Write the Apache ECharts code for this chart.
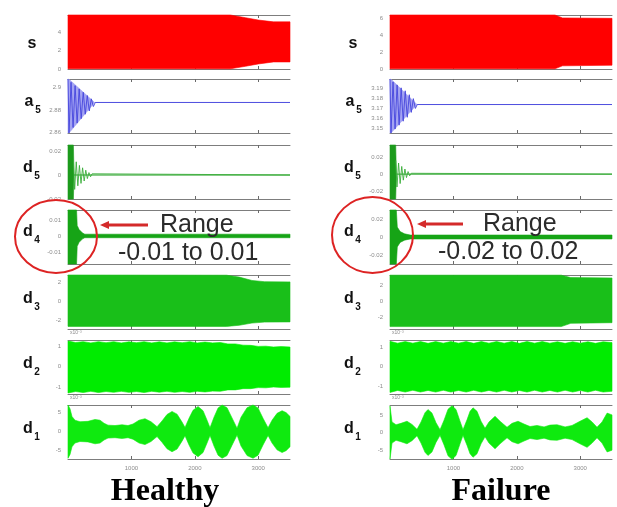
<!DOCTYPE html>
<html>
<head>
<meta charset="utf-8">
<script src="https://cdn.jsdelivr.net/npm/echarts@6/dist/echarts.min.js"></script>
<style>
html,body{margin:0;padding:0;background:#fff}
#chart{width:617px;height:507px}
</style>
</head>
<body>
<div id="chart"></div>
<script>
// ---- shared axis values (sample index) ----
const xMin = 0, xMax = 3500;
const xTickValues = [1000, 2000, 3000];
const levelNames = ['s', 'a', 'd', 'd', 'd', 'd', 'd'];
const levelSubs = ['', '5', '5', '4', '3', '2', '1'];

// ---- Healthy: envelopes (upper / lower) of each level ----
const hS_t = [0, 2560, 2800, 3000, 3240, 3500];
const hS_hi = [5.9, 5.9, 5.6, 5.35, 5.15, 5.15];
const hS_lo = [0.02, 0.02, 0.3, 0.55, 0.77, 0.77];

const hA5_t = [0, 30, 420, 3500];
const hA5_hi = [2.908, 2.907, 2.8867, 2.8867];
const hA5_lo = [2.859, 2.860, 2.8867, 2.8867];
const hA5Osc_t = [0, 16, 48, 80, 112, 144, 176, 208, 240, 272, 304, 336, 368, 400, 430, 3500];
const hA5Osc_v = [2.908, 2.859, 2.905, 2.864, 2.902, 2.868, 2.899, 2.872, 2.896, 2.876, 2.893, 2.879, 2.890, 2.883, 2.8867, 2.8867];

const hD5_t = [0, 85, 95, 3500];
const hD5_hi = [0.025, 0.025, 0, 0];
const hD5_lo = [-0.02, -0.02, 0, 0];
const hD5Osc_t = [85, 105, 130, 155, 180, 205, 230, 255, 280, 305, 330, 355, 380, 405, 3500];
const hD5Osc_v = [0.013, -0.012, 0.011, -0.009, 0.008, -0.007, 0.006, -0.005, 0.004, -0.003, 0.002, -0.0015, 0.001, 0, 0];

const hD4_t = [0, 135, 145, 175, 230, 265, 3500];
const hD4_hi = [0.0162, 0.0162, 0.0065, 0.004, 0.0018, 0.0011, 0.0011];
const hD4_lo = [-0.0175, -0.0175, -0.0065, -0.004, -0.0018, -0.0011, -0.0011];

const hD3_t = [0, 2500, 2700, 2900, 3100, 3500];
const hD3_hi = [2.77, 2.75, 2.55, 2.2, 2.07, 2.05];
const hD3_lo = [-2.6, -2.6, -2.48, -2.25, -2.15, -2.13];

const hD2_t = [0, 120, 240, 360, 480, 600, 720, 840, 960, 1080, 1200, 1320, 1440, 1560, 1680, 1800, 1920, 2040, 2160, 2280, 2400, 2520, 2640, 2760, 2880, 3000, 3120, 3240, 3360, 3500];
const hD2_hi = [1.24, 1.17, 1.21, 1.15, 1.21, 1.16, 1.21, 1.15, 1.2, 1.16, 1.21, 1.15, 1.2, 1.15, 1.2, 1.16, 1.21, 1.15, 1.19, 1.15, 1.17, 1.1, 1.1, 1.04, 1.03, 0.98, 0.99, 0.95, 0.97, 0.95];
const hD2_lo = [-1.28, -1.21, -1.26, -1.2, -1.26, -1.21, -1.25, -1.2, -1.25, -1.21, -1.26, -1.2, -1.24, -1.2, -1.25, -1.21, -1.25, -1.2, -1.23, -1.19, -1.2, -1.13, -1.13, -1.07, -1.07, -1.02, -1.03, -0.99, -1.01, -1.0];

const hD1_t = [0, 32, 63, 110, 189, 315, 426, 505, 568, 631, 741, 852, 946, 1025, 1120, 1214, 1309, 1404, 1482, 1561, 1640, 1719, 1798, 1845, 1908, 1971, 2050, 2129, 2192, 2239, 2302, 2366, 2429, 2507, 2586, 2665, 2728, 2823, 2917, 2996, 3075, 3154, 3217, 3296, 3375, 3438, 3500];
const hD1_amp = [7.0, 6.0, 4.0, 3.0, 2.6, 2.7, 3.2, 3.0, 2.2, 1.7, 1.6, 1.8, 1.6, 2.0, 3.0, 3.4, 2.6, 1.3, 2.8, 4.5, 5.3, 4.6, 2.5, 1.1, 3.5, 5.6, 6.6, 5.5, 3.0, 1.0, 3.8, 6.2, 7.0, 6.3, 3.6, 0.9, 3.8, 6.3, 7.0, 6.2, 3.5, 1.0, 3.0, 4.8, 5.5, 5.0, 4.0];

// ---- Failure: envelopes (upper / lower) of each level ----
const fS_t = [0, 2600, 2720, 3500];
const fS_hi = [6.45, 6.45, 6.1, 6.05];
const fS_lo = [0.02, 0.02, 0.38, 0.45];

const fA5_t = [0, 30, 425, 3500];
const fA5_hi = [3.2, 3.199, 3.174, 3.174];
const fA5_lo = [3.145, 3.146, 3.174, 3.174];
const fA5Osc_t = [0, 16, 48, 80, 112, 144, 176, 208, 240, 272, 304, 336, 368, 400, 430, 3500];
const fA5Osc_v = [3.2, 3.145, 3.197, 3.149, 3.194, 3.153, 3.191, 3.157, 3.188, 3.161, 3.184, 3.166, 3.18, 3.17, 3.174, 3.174];

const fD5_t = [0, 90, 100, 3500];
const fD5_hi = [0.034, 0.034, 0, 0];
const fD5_lo = [-0.029, -0.029, 0, 0];
const fD5Osc_t = [90, 110, 135, 160, 185, 210, 235, 260, 285, 310, 335, 360, 3500];
const fD5Osc_v = [0.016, -0.015, 0.013, -0.011, 0.009, -0.007, 0.006, -0.004, 0.003, -0.002, 0.001, 0, 0];

const fD4_t = [0, 100, 115, 160, 230, 320, 3500];
const fD4_hi = [0.03, 0.03, 0.011, 0.006, 0.0035, 0.0022, 0.0022];
const fD4_lo = [-0.03, -0.03, -0.011, -0.006, -0.0035, -0.0022, -0.0022];

const fD3_t = [0, 2700, 2850, 3500];
const fD3_hi = [3.25, 3.25, 2.95, 2.9];
const fD3_lo = [-3.1, -3.1, -2.7, -2.62];

const fD2_t = [0, 120, 240, 360, 480, 600, 720, 840, 960, 1080, 1200, 1320, 1440, 1560, 1680, 1800, 1920, 2040, 2160, 2280, 2400, 2520, 2640, 2760, 2880, 3000, 3120, 3240, 3360, 3500];
const fD2_hi = [1.28, 1.19, 1.27, 1.19, 1.27, 1.18, 1.27, 1.19, 1.27, 1.19, 1.27, 1.18, 1.27, 1.19, 1.27, 1.19, 1.27, 1.18, 1.27, 1.19, 1.27, 1.19, 1.26, 1.18, 1.26, 1.19, 1.26, 1.18, 1.26, 1.22];
const fD2_lo = [-1.32, -1.22, -1.3, -1.21, -1.3, -1.22, -1.3, -1.21, -1.3, -1.22, -1.3, -1.21, -1.3, -1.22, -1.3, -1.21, -1.3, -1.22, -1.3, -1.21, -1.3, -1.22, -1.3, -1.21, -1.3, -1.22, -1.3, -1.21, -1.3, -1.26];

const fD1_t = [0, 32, 95, 173, 268, 347, 426, 489, 552, 599, 662, 725, 789, 852, 915, 978, 1041, 1104, 1151, 1214, 1262, 1309, 1372, 1435, 1498, 1561, 1656, 1735, 1845, 1924, 2019, 2113, 2208, 2318, 2429, 2523, 2634, 2760, 2870, 2996, 3107, 3186, 3264, 3343, 3423, 3500];
const fD1_amp = [7.5, 3.0, 2.2, 2.6, 3.2, 2.3, 0.9, 3.0, 5.6, 6.5, 5.5, 2.8, 0.8, 3.5, 6.6, 7.6, 6.5, 3.2, 0.8, 3.6, 6.0, 7.0, 6.0, 3.2, 1.2, 3.0, 4.6, 3.2, 1.5, 2.6, 3.2, 2.4, 1.7, 2.0, 1.6, 2.1, 2.2, 1.6, 2.0, 3.2, 4.2, 3.0, 1.5, 3.0, 5.5, 5.0];

// ---- y ranges and tick labels per level ----
const hYMin = [0, 2.859, -0.02, -0.0175, -2.87, -1.33, -7.2];
const hYMax = [5.9, 2.908, 0.025, 0.0162, 2.77, 1.29, 7.0];
const hYTicks = [[0, 2, 4], [2.86, 2.88, 2.9], [-0.02, 0, 0.02], [-0.01, 0, 0.01], [-2, 0, 2], [-1, 0, 1], [-5, 0, 5]];
const fYMin = [0, 3.145, -0.029, -0.03, -3.4, -1.4, -7.5];
const fYMax = [6.45, 3.2, 0.034, 0.03, 3.27, 1.35, 7.8];
const fYTicks = [[0, 2, 4, 6], [3.15, 3.16, 3.17, 3.18, 3.19], [-0.02, 0, 0.02], [-0.02, 0, 0.02], [-2, 0, 2], [-1, 0, 1], [-5, 0, 5]];

// ---- colours per level ----
const fillColors = ['#ff0000', '#a4a4f2', '#1c9a1c', '#16a416', '#19bf19', '#00ec00', '#0fea0f'];

// ---- layout ----
const colLeft = [68, 390];
const plotWidth = 222;
const rowTop = [15, 79, 145, 210, 275, 340, 405];
const plotHeight = 54;

const grids = [], xAxes = [], yAxes = [], series = [];

function negate(arr) { return arr.map(v => -v); }

const columns = [
  {
    bands: [[hS_t, hS_hi, hS_lo], [hA5_t, hA5_hi, hA5_lo], [hD5_t, hD5_hi, hD5_lo], [hD4_t, hD4_hi, hD4_lo],
            [hD3_t, hD3_hi, hD3_lo], [hD2_t, hD2_hi, hD2_lo], [hD1_t, hD1_amp, negate(hD1_amp)]],
    osc: {1: [hA5Osc_t, hA5Osc_v, '#4545dc'], 2: [hD5Osc_t, hD5Osc_v, '#3aae3a']},
    yMin: hYMin, yMax: hYMax, yTicks: hYTicks
  },
  {
    bands: [[fS_t, fS_hi, fS_lo], [fA5_t, fA5_hi, fA5_lo], [fD5_t, fD5_hi, fD5_lo], [fD4_t, fD4_hi, fD4_lo],
            [fD3_t, fD3_hi, fD3_lo], [fD2_t, fD2_hi, fD2_lo], [fD1_t, fD1_amp, negate(fD1_amp)]],
    osc: {1: [fA5Osc_t, fA5Osc_v, '#4545dc'], 2: [fD5Osc_t, fD5Osc_v, '#3aae3a']},
    yMin: fYMin, yMax: fYMax, yTicks: fYTicks
  }
];

function fmt(v) { return String(Math.round(v * 1000) / 1000); }

columns.forEach((col, c) => {
  for (let r = 0; r < 7; r++) {
    const g = grids.length;
    grids.push({left: colLeft[c], top: rowTop[r], width: plotWidth, height: plotHeight, show: false});
    const lastRow = r === 6;
    const frame = {lineStyle: {color: '#7d7d7d', width: 1}};
    xAxes.push({
      type: 'value', gridIndex: g, min: xMin, max: xMax, position: 'bottom',
      axisLine: Object.assign({show: true, onZero: false}, frame),
      axisTick: {show: true, inside: true, length: 3, customValues: xTickValues, lineStyle: {color: '#6a6a6a'}},
      axisLabel: {show: lastRow, customValues: xTickValues, fontSize: 6, color: '#8c8c8c', margin: 6,
                  fontFamily: 'Liberation Sans', formatter: v => String(v)},
      splitLine: {show: false}
    });
    xAxes.push({
      type: 'value', gridIndex: g, min: xMin, max: xMax, position: 'top',
      axisLine: Object.assign({show: true, onZero: false}, frame),
      axisTick: {show: true, inside: true, length: 3, customValues: xTickValues, lineStyle: {color: '#6a6a6a'}},
      axisLabel: {show: false},
      splitLine: {show: false}
    });
    yAxes.push({
      type: 'value', gridIndex: g, min: col.yMin[r], max: col.yMax[r],
      axisLine: {show: false}, axisTick: {show: false}, splitLine: {show: false},
      axisLabel: {customValues: col.yTicks[r], fontSize: 6, color: '#8c8c8c', margin: 7,
                  fontFamily: 'Liberation Sans', formatter: fmt}
    });
    const [t, hi, lo] = col.bands[r];
    const color = fillColors[r];
    series.push({
      type: 'custom', xAxisIndex: 2 * g, yAxisIndex: g, silent: true, animation: false,
      data: [[t[0], hi[0]]],
      renderItem: function (params, api) {
        const pts = [];
        for (let i = 0; i < t.length; i++) pts.push(api.coord([t[i], hi[i]]));
        for (let i = t.length - 1; i >= 0; i--) pts.push(api.coord([t[i], lo[i]]));
        return {type: 'polygon', shape: {points: pts}, style: {fill: color, stroke: color, lineWidth: 0.6}};
      }
    });
    const osc = col.osc[r];
    if (osc) {
      series.push({
        type: 'line', xAxisIndex: 2 * g, yAxisIndex: g, silent: true, animation: false,
        symbol: 'none', data: osc[0].map((tt, i) => [tt, osc[1][i]]),
        lineStyle: {color: osc[2], width: 0.9}
      });
    }
  }
});

// ---- text, labels and annotations ----
const graphics = [];
const letterPos = [[32, 44], [29, 102], [28, 168], [28, 232], [28, 299], [28, 364], [28, 429]];
[0, 321].forEach(dx => {
  levelNames.forEach((name, i) => {
    graphics.push({type: 'text', x: letterPos[i][0] + dx, y: letterPos[i][1],
      style: {text: name, font: 'bold 16px "Liberation Sans"', fill: '#111', align: 'center', verticalAlign: 'middle'}});
    if (levelSubs[i]) {
      graphics.push({type: 'text', x: letterPos[i][0] + dx + 9, y: letterPos[i][1] + 8,
        style: {text: levelSubs[i], font: 'bold 10px "Liberation Sans"', fill: '#111', align: 'center', verticalAlign: 'middle'}});
    }
  });
  [333, 398].forEach(y => {
    graphics.push({type: 'text', x: (dx ? 392 : 70), y: y,
      style: {text: 'x10⁻³', font: '5px "Liberation Sans"', fill: '#8c8c8c', align: 'left', verticalAlign: 'middle'}});
  });
});

function annotate(cx, cy, rx, ry, arrowFrom, arrowTip, ay, rangeX, rangeY, rangeText, spanX, spanY) {
  graphics.push({type: 'ellipse', shape: {cx: cx, cy: cy, rx: rx, ry: ry}, z: 100,
    style: {fill: 'none', stroke: '#dd2323', lineWidth: 2}});
  graphics.push({type: 'line', shape: {x1: arrowFrom, y1: ay, x2: arrowTip + 6, y2: ay}, z: 100,
    style: {stroke: '#d42a2a', lineWidth: 3}});
  graphics.push({type: 'polygon', shape: {points: [[arrowTip, ay], [arrowTip + 9, ay - 4], [arrowTip + 9, ay + 4]]}, z: 100,
    style: {fill: '#d42a2a'}});
  graphics.push({type: 'text', x: rangeX, y: rangeY, z: 100,
    style: {text: 'Range', font: '25px "Liberation Sans"', fill: '#2b2b2b', align: 'left', verticalAlign: 'middle'}});
  graphics.push({type: 'text', x: spanX, y: spanY, z: 100,
    style: {text: rangeText, font: '25px "Liberation Sans"', fill: '#2b2b2b', align: 'left', verticalAlign: 'middle'}});
}
annotate(56, 236.5, 41, 36.5, 148, 100, 225, 160, 225, '-0.01 to 0.01', 118, 253);
annotate(372.5, 235, 40.5, 38, 463, 417, 224, 483, 224, '-0.02 to 0.02', 438, 252);

graphics.push({type: 'text', x: 165, y: 492, z: 100,
  style: {text: 'Healthy', font: 'bold 32px "Liberation Serif"', fill: '#000', align: 'center', verticalAlign: 'middle'}});
graphics.push({type: 'text', x: 501, y: 492, z: 100,
  style: {text: 'Failure', font: 'bold 32px "Liberation Serif"', fill: '#000', align: 'center', verticalAlign: 'middle'}});

const chart = echarts.init(document.getElementById('chart'), null, {renderer: 'canvas'});
chart.setOption({
  animation: false,
  backgroundColor: '#ffffff',
  grid: grids,
  xAxis: xAxes,
  yAxis: yAxes,
  series: series,
  graphic: graphics
});
</script>
</body>
</html>
